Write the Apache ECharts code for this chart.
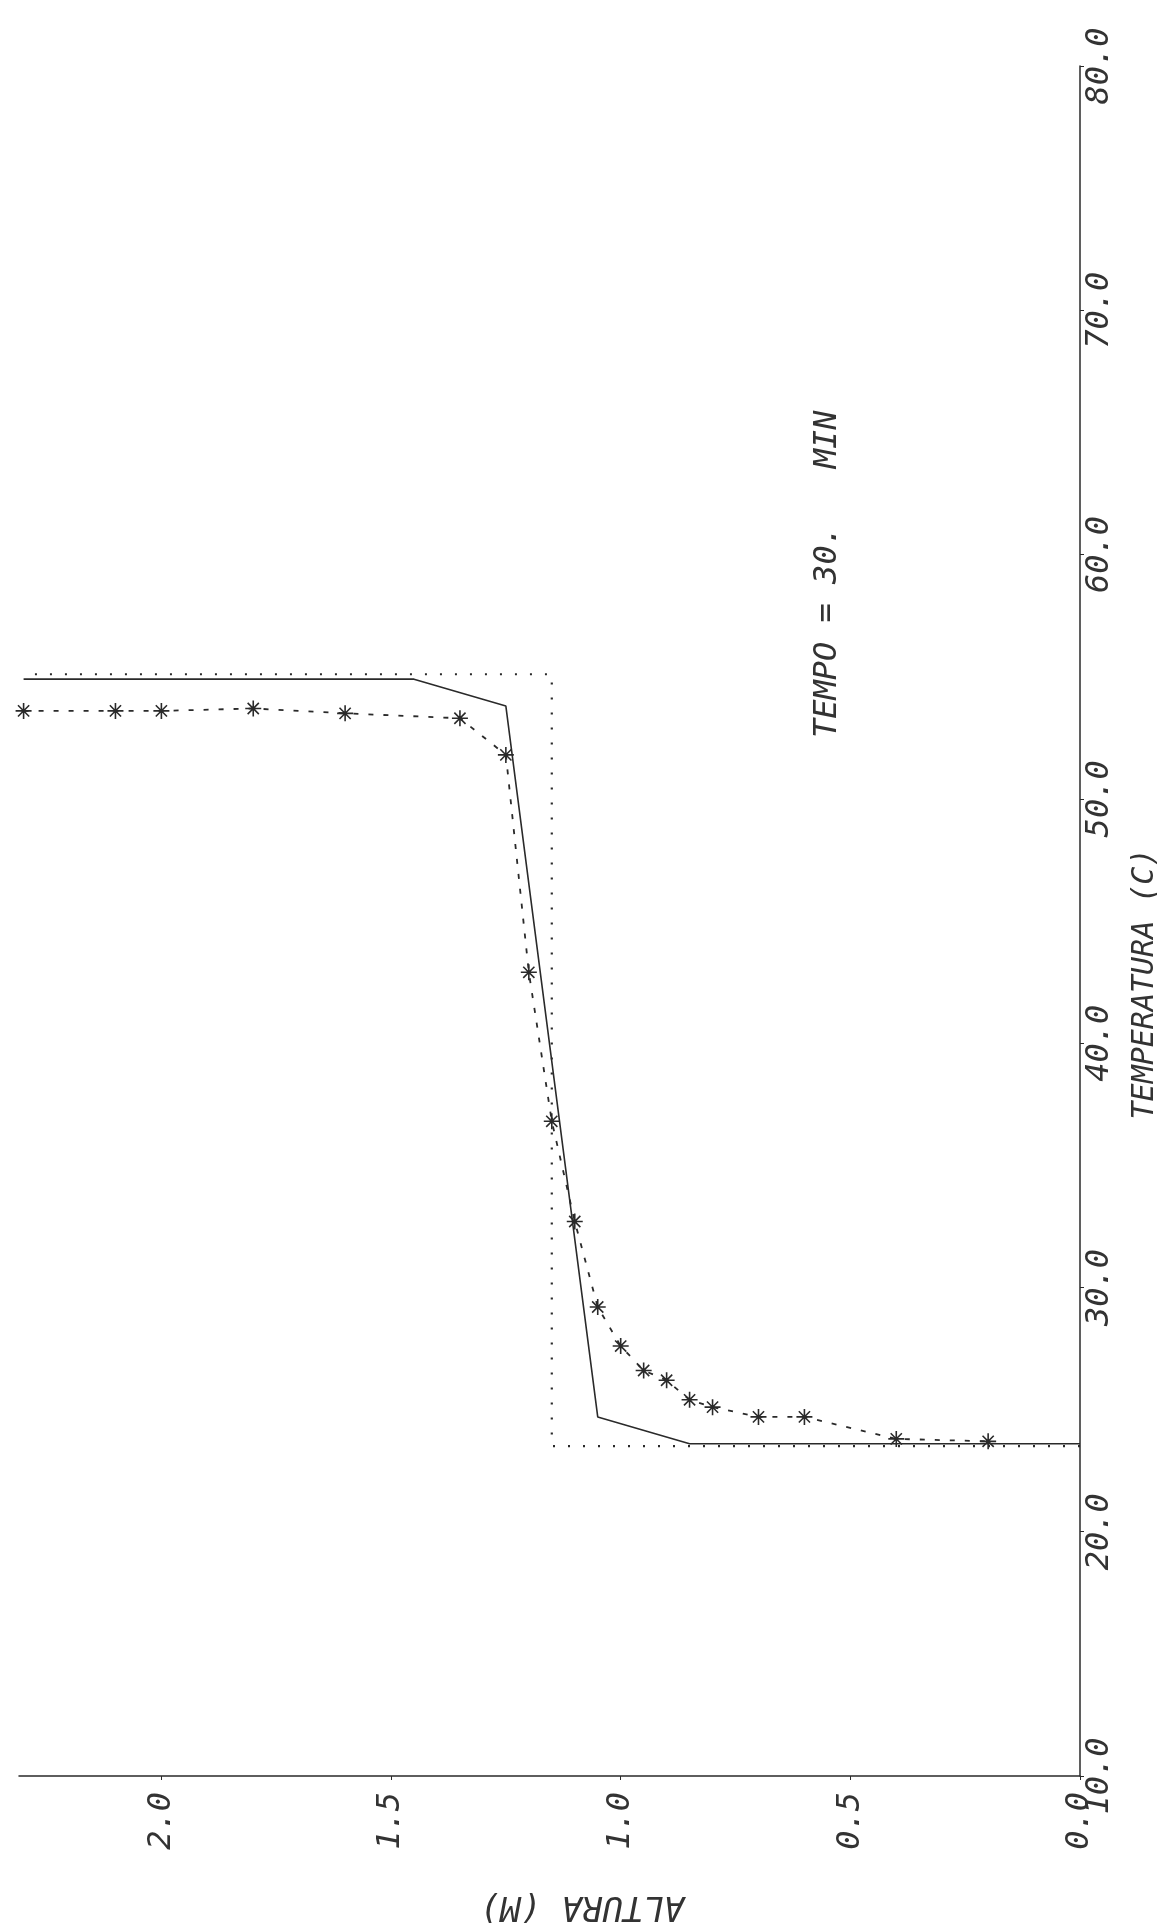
<!DOCTYPE html>
<html>
<head>
<meta charset="utf-8">
<title>Temperatura x Altura - Tempo = 30 min</title>
<script src="https://cdn.jsdelivr.net/npm/echarts@6/dist/echarts.min.js"></script>
<style>
    html, body { margin: 0; padding: 0; background: #fff; }
    #grafico { width: 1176px; height: 1929px; }
</style>
</head>
<body>
<div id="grafico"></div>
<script>
// eixos: [min, max, passo]
const eixoAltura = [0, 2.31, 0.5];
const eixoTemp = [10, 80, 10];

// perfil em degrau (pontilhado)
const alturaDegrau = [0, 1.15, 1.15, 2.3];
const tempDegrau = [23.5, 23.5, 55.1, 55.1];

// perfil calculado (linha cheia)
const alturaCalc = [0, 0.85, 1.05, 1.25, 1.45, 2.3];
const tempCalc = [23.6, 23.6, 24.7, 53.8, 54.9, 54.9];

// valores medidos (asteriscos, tracejado)
const alturaMedida = [2.3, 2.1, 2.0, 1.8, 1.6, 1.35, 1.25, 1.2, 1.15, 1.1, 1.05, 1.0, 0.95, 0.9, 0.85, 0.8, 0.7, 0.6, 0.4, 0.2];
const tempMedida = [53.6, 53.6, 53.6, 53.7, 53.5, 53.3, 51.8, 42.9, 36.8, 32.7, 29.2, 27.6, 26.6, 26.2, 25.4, 25.1, 24.7, 24.7, 23.8, 23.7];

const fonte = '"DejaVu Sans Mono", "Liberation Mono", monospace';
const tinta = '#2a2a2a';

// asterisco feito de 4 barras finas
const asterisco = 'path://M-10,-1L10,-1L10,1L-10,1Z' +
    'M1,-10L1,10L-1,10L-1,-10Z' +
    'M-6.3,-7.7L7.7,6.3L6.3,7.7L-7.7,-6.3Z' +
    'M7.7,-6.3L-6.3,7.7L-7.7,6.3L6.3,-7.7Z';

function pares(xs, ys){
    return xs.map(function(x, i){ return [x, ys[i]]; });
}

const chart = echarts.init(document.getElementById('grafico'));

const option = {
    animation: false,
    backgroundColor: '#fff',
    grid: { left: 19, right: 96, top: 66, bottom: 153 },
    xAxis: {
        type: 'value',
        inverse: true,
        min: eixoAltura[0],
        max: eixoAltura[1],
        interval: eixoAltura[2],
        axisLine: { onZero: false, lineStyle: { color: tinta, width: 1.5 } },
        axisTick: { show: true, length: 4, lineStyle: { color: tinta } },
        splitLine: { show: false },
        axisLabel: {
            rotate: 90,
            margin: 16,
            showMaxLabel: false,
            color: '#333',
            fontFamily: fonte,
            fontStyle: 'italic',
            fontSize: 32,
            formatter: function(v){ return v.toFixed(1); }
        }
    },
    yAxis: {
        type: 'value',
        position: 'right',
        min: eixoTemp[0],
        max: eixoTemp[1],
        interval: eixoTemp[2],
        axisLine: { show: true, onZero: false, lineStyle: { color: tinta, width: 1.5 } },
        axisTick: { show: true, length: 4, lineStyle: { color: tinta } },
        splitLine: { show: false },
        axisLabel: {
            rotate: 90,
            margin: 4,
            color: '#333',
            fontFamily: fonte,
            fontStyle: 'italic',
            fontSize: 32,
            formatter: function(v){ return v.toFixed(1); }
        }
    },
    series: [
        {
            name: 'degrau',
            type: 'line',
            data: pares(alturaDegrau, tempDegrau),
            showSymbol: false,
            lineStyle: { color: tinta, width: 2.2, type: [2, 13] }
        },
        {
            name: 'calculado',
            type: 'line',
            data: pares(alturaCalc, tempCalc),
            showSymbol: false,
            lineStyle: { color: tinta, width: 1.6 }
        },
        {
            name: 'medido',
            type: 'line',
            data: pares(alturaMedida, tempMedida),
            symbol: asterisco,
            symbolSize: 16,
            itemStyle: { color: tinta },
            lineStyle: { color: tinta, width: 1.8, type: [5, 10] }
        }
    ],
    graphic: [
        {
            type: 'text', x: 828, y: 738, rotation: Math.PI / 2,
            style: { text: 'TEMPO = 30.   MIN', fontFamily: fonte, fontStyle: 'italic', fontSize: 32,
                fill: '#333', align: 'left', verticalAlign: 'middle' }
        },
        {
            type: 'text', x: 1145, y: 984, rotation: Math.PI / 2,
            style: { text: 'TEMPERATURA (C)', fontFamily: fonte, fontStyle: 'italic', fontSize: 30,
                fill: '#333', align: 'center', verticalAlign: 'middle' }
        },
        {
            type: 'text', x: 582, y: 1906, rotation: Math.PI,
            style: { text: 'ALTURA (M)', fontFamily: fonte, fontStyle: 'italic', fontSize: 34,
                fill: '#333', align: 'center', verticalAlign: 'middle' }
        }
    ]
};

chart.setOption(option);
</script>
</body>
</html>
